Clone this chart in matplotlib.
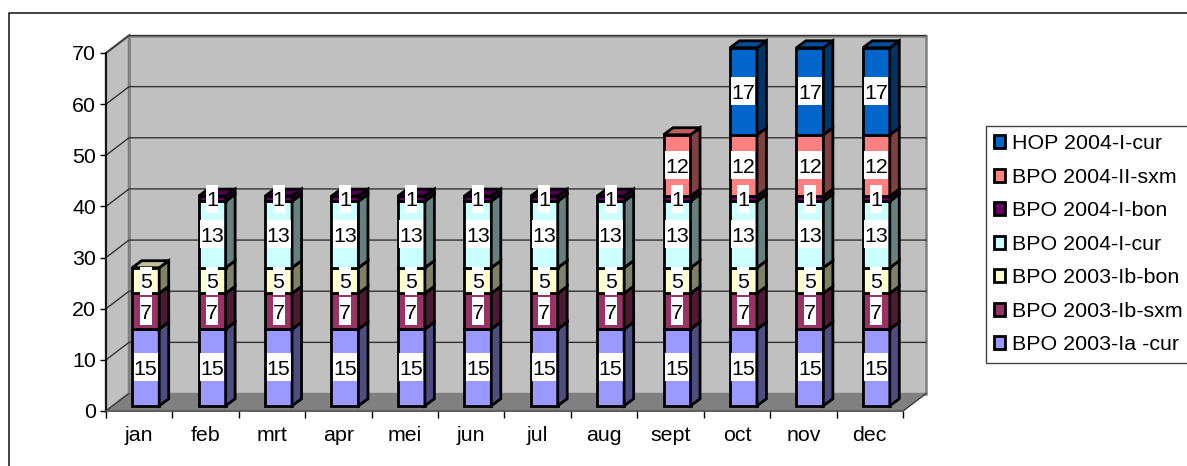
import matplotlib
matplotlib.use("Agg")
import matplotlib.pyplot as plt
from matplotlib.patches import Polygon, Rectangle, Patch
from matplotlib.colors import to_rgb

plt.rcParams['font.family'] = ['Liberation Sans', 'DejaVu Sans']

months = ['jan', 'feb', 'mrt', 'apr', 'mei', 'jun', 'jul', 'aug', 'sept', 'oct', 'nov', 'dec']
names = ['BPO 2003-Ia -cur', 'BPO 2003-Ib-sxm', 'BPO 2003-Ib-bon', 'BPO 2004-I-cur',
         'BPO 2004-I-bon', 'BPO 2004-II-sxm', 'HOP 2004-I-cur']
colors = ['#9999ff', '#993366', '#ffffcc', '#ccffff', '#660066', '#ff8080', '#0066cc']

s1 = [15] * 12
s2 = [7] * 12
s3 = [5] * 12
s4 = [0, 13, 13, 13, 13, 13, 13, 13, 13, 13, 13, 13]
s5 = [0, 1, 1, 1, 1, 1, 1, 1, 1, 1, 1, 1]
s6 = [0, 0, 0, 0, 0, 0, 0, 0, 12, 12, 12, 12]
s7 = [0, 0, 0, 0, 0, 0, 0, 0, 0, 17, 17, 17]
series = [s1, s2, s3, s4, s5, s6, s7]
yticks = [0, 10, 20, 30, 40, 50, 60, 70]

W, H = 1187, 466
FS = 15.4
fig = plt.figure(figsize=(W / 100, H / 100), dpi=100)

# plot box in pixels
left, right, bottom, top = 106, 903, 411, 53
ax = fig.add_axes([left / W, 1 - bottom / H, (right - left) / W, (bottom - top) / H])
ax.set_xlim(-0.5, 11.5)
ax.set_ylim(0, 70)
ax.patch.set_alpha(0)

px = (right - left) / 12.0
py = (bottom - top) / 70.0
# 3d depth of the walls and of the bars, as data units
wx, wy = 23 / px, 17.5 / py
bx, by = 9.5 / px, 7 / py
bar_w = 27 / px
bar_off = 6.5 / px
bar_up = 5.2 / py

x0, x1 = -0.5, 11.5
y1 = 70
wall = '#c0c0c0'
edge = '#808080'
ax.add_patch(Polygon([(x0 + wx, wy), (x1 + wx, wy), (x1 + wx, y1 + wy), (x0 + wx, y1 + wy)],
                     fc=wall, ec=edge, lw=1.8, clip_on=False, zorder=1))
ax.add_patch(Polygon([(x0, 0), (x0 + wx, wy), (x0 + wx, y1 + wy), (x0, y1)],
                     fc=wall, ec=edge, lw=1.8, clip_on=False, zorder=1))
ax.add_patch(Polygon([(x0, 0), (x1, 0), (x1 + wx, wy), (x0 + wx, wy)],
                     fc=edge, ec=edge, lw=1, clip_on=False, zorder=1))
ax.plot([x1, x1 + wx], [0, wy], color='#333333', lw=0.8, clip_on=False, zorder=1.5)

for t in yticks:
    if t > 0:
        ax.plot([x0, x0 + wx, x1 + wx], [t, t + wy, t + wy], color='#333333', lw=1,
                clip_on=False, zorder=2)
    else:
        ax.plot([x0, x0 + wx], [t, t + wy], color='#333333', lw=0.8, clip_on=False, zorder=2)


def shade(c, f):
    r, g, b = to_rgb(c)
    return (r * f, g * f, b * f)


for i in range(len(months)):
    a = i - bar_w / 2 + bar_off
    b = a + bar_w
    base = bar_up
    labels = []
    tops = [k for k, s in enumerate(series) if s[i] > 0]
    for k, s in enumerate(series):
        v = s[i]
        if v == 0:
            continue
        c = colors[k]
        z = 3 + i + k * 0.01
        ax.add_patch(Rectangle((a, base), bar_w, v, fc=c, ec='black', lw=2, zorder=z, clip_on=False))
        ax.add_patch(Polygon([(b, base), (b + bx, base + by), (b + bx, base + v + by), (b, base + v)],
                             fc=shade(c, 0.5), ec='black', lw=2, zorder=z, clip_on=False))
        if k == tops[-1] or v == 1:
            ax.add_patch(Polygon([(a, base + v), (b, base + v), (b + bx, base + v + by), (a + bx, base + v + by)],
                                 fc=shade(c, 0.75), ec='black', lw=2, zorder=z, clip_on=False))
        labels.append((v, base + v / 2.0))
        base += v
    for v, yc in labels:
        bw = 12 * len(str(v)) / px
        bh = 28 / py
        ax.add_patch(Rectangle((a + bar_w / 2 - bw / 2, yc - bh / 2), bw, bh, fc='white', ec='none',
                               zorder=50, clip_on=False))
        ax.text(a + bar_w / 2, yc, str(v), ha='center', va='center_baseline', fontsize=FS,
                color='black', zorder=51, clip_on=False)

ax.set_xticks(range(12))
ax.set_xticklabels(months, fontsize=FS)
ax.set_xticks([x0 + i for i in range(13)], minor=True)
ax.tick_params(axis='x', which='major', length=0, pad=11)
ax.tick_params(axis='x', which='minor', length=5, width=1, color='black')
ax.set_yticks(yticks)
ax.tick_params(axis='y', length=4, width=1, pad=3, labelsize=FS)
for side in ['top', 'right']:
    ax.spines[side].set_visible(False)
ax.spines['left'].set_linewidth(1.2)
ax.spines['bottom'].set_color('#555555')
ax.spines['bottom'].set_linewidth(1.2)
for sp in ax.spines.values():
    sp.set_zorder(2.5)

# legend, reversed like the original
handles = [Patch(fc=c, ec='black', lw=2) for c in colors][::-1]
leg = fig.legend(handles, names[::-1], loc='upper left', bbox_to_anchor=(985.5 / W, 1 - 126 / H),
                 fontsize=FS, frameon=True, fancybox=False, framealpha=1, edgecolor='#444444',
                 handlelength=0.55, handleheight=0.55, handletextpad=0.3, labelspacing=0.68,
                 borderpad=0.38, borderaxespad=0, labelcolor='black')
leg.get_frame().set_linewidth(1)

# outer chart border, only left and top are in the picture
fig.add_artist(plt.Line2D([8.5 / W, 8.5 / W, 1], [0, 1 - 13 / H, 1 - 13 / H], color='#222222', lw=1.2))

fig.savefig('out.png', dpi=100)
